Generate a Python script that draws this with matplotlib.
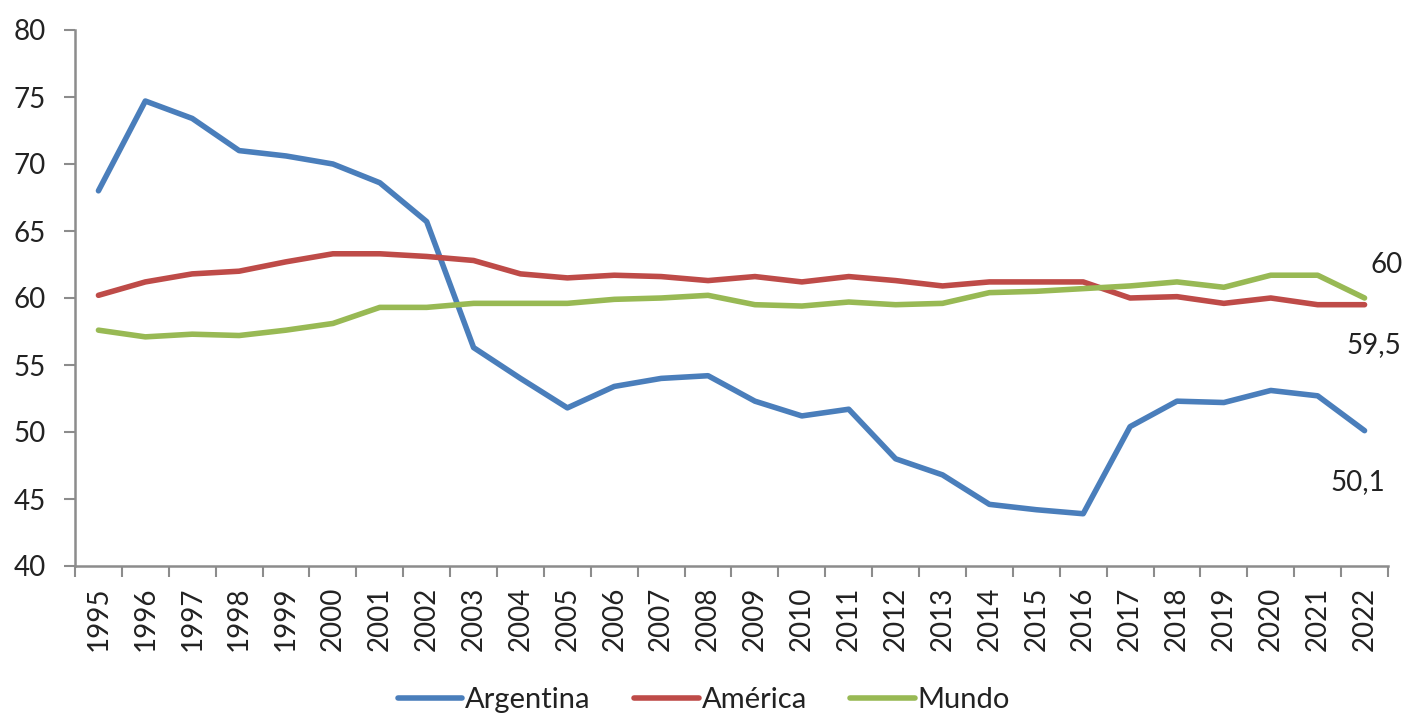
import matplotlib
matplotlib.use("Agg")
import matplotlib.pyplot as plt
import numpy as np

years = [str(y) for y in range(1995, 2023)]
argentina = [68.0, 74.7, 73.4, 71.0, 70.6, 70.0, 68.6, 65.7, 56.3, 54.0,
             51.8, 53.4, 54.0, 54.2, 52.3, 51.2, 51.7, 48.0, 46.8, 44.6,
             44.2, 43.9, 50.4, 52.3, 52.2, 53.1, 52.7, 50.1]
america = [60.2, 61.2, 61.8, 62.0, 62.7, 63.3, 63.3, 63.1, 62.8, 61.8,
           61.5, 61.7, 61.6, 61.3, 61.6, 61.2, 61.6, 61.3, 60.9, 61.2,
           61.2, 61.2, 60.0, 60.1, 59.6, 60.0, 59.5, 59.5]
mundo = [57.6, 57.1, 57.3, 57.2, 57.6, 58.1, 59.3, 59.3, 59.6, 59.6,
         59.6, 59.9, 60.0, 60.2, 59.5, 59.4, 59.7, 59.5, 59.6, 60.4,
         60.5, 60.7, 60.9, 61.2, 60.8, 61.7, 61.7, 60.0]
series_names = ["Argentina", "América", "Mundo"]
colors = ["#4A7EBB", "#BE4B48", "#98B954"]
end_labels = ["50,1", "59,5", "60"]

plt.rcParams['font.family'] = ['Lato', 'DejaVu Sans']

fig = plt.figure(figsize=(14.08, 7.19), dpi=100)
ax = fig.add_axes([75/1408, 1-566/719, (1388-75)/1408, (566-30)/719])

x = np.arange(len(years))
for vals, name, c in zip([argentina, america, mundo], series_names, colors):
    ax.plot(x, vals, color=c, lw=4.0, label=name, solid_capstyle='round',
            solid_joinstyle='round')

ax.set_xlim(-0.5, len(years) - 0.5)
ax.set_ylim(40, 80)
ax.set_yticks(np.arange(40, 81, 5))
ax.set_xticks(x)
ax.set_xticklabels(years, rotation=90, fontsize=20, color='#222222')
ax.set_xticks(np.arange(-0.5, len(years), 1), minor=True)
ax.tick_params(axis='x', which='major', length=0, pad=15)
ax.tick_params(axis='x', which='minor', length=8, width=1.5, color='#8c8c8c',
               direction='out')
ax.tick_params(axis='y', length=8, width=1.5, color='#8c8c8c', pad=13,
               labelsize=20, labelcolor='#222222')

for s in ['top', 'right']:
    ax.spines[s].set_visible(False)
for s in ['left', 'bottom']:
    ax.spines[s].set_color('#8c8c8c')
    ax.spines[s].set_linewidth(1.8)

# end labels
last = len(years) - 1
ax.annotate(end_labels[2], (last, mundo[-1]), xytext=(16, 24),
            textcoords='offset points', ha='center', va='center',
            fontsize=20, color='#222222', annotation_clip=False)
ax.annotate(end_labels[1], (last, america[-1]), xytext=(7, -29),
            textcoords='offset points', ha='center', va='center',
            fontsize=20, color='#222222', annotation_clip=False)
ax.annotate(end_labels[0], (last, argentina[-1]), xytext=(-5, -37),
            textcoords='offset points', ha='center', va='center',
            fontsize=20, color='#222222', annotation_clip=False)

leg = fig.legend(loc='center', bbox_to_anchor=(0.5, 1 - 700/719), ncol=3,
                 frameon=False, fontsize=21, handlelength=2.2,
                 handletextpad=0.1, columnspacing=1.5, borderpad=0.1)
for t in leg.get_texts():
    t.set_color('#222222')

fig.savefig("out.png", dpi=100)
